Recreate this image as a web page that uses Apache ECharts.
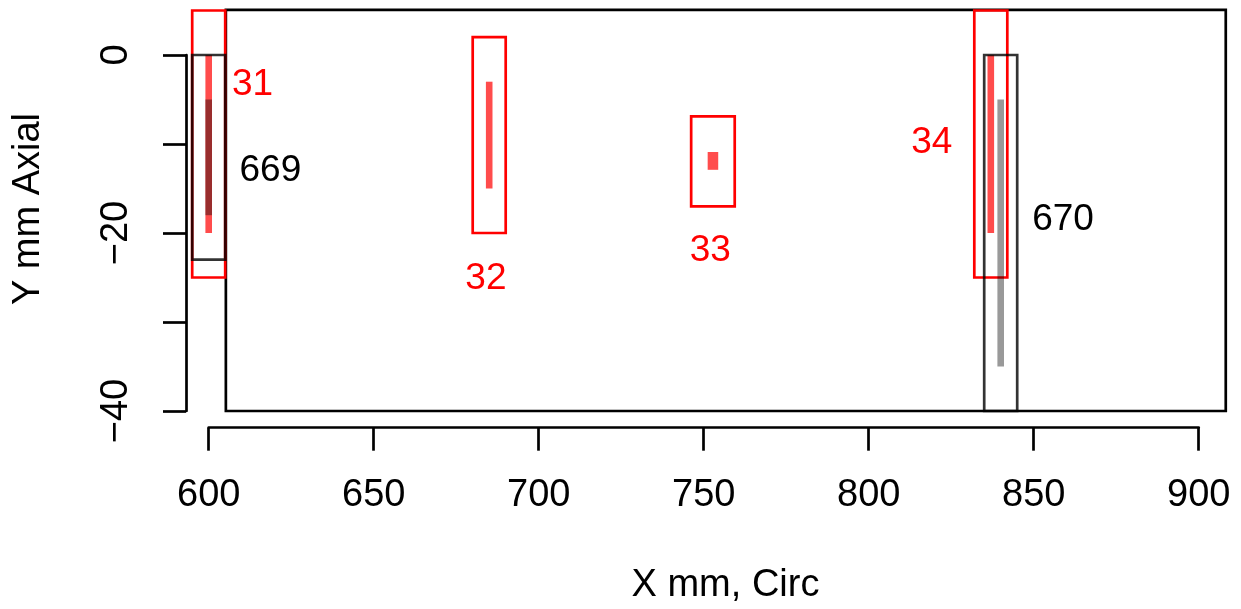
<!DOCTYPE html>
<html>
<head>
<meta charset="utf-8">
<script src="https://cdn.jsdelivr.net/npm/echarts@6/dist/echarts.min.js"></script>
<style>
  html, body { margin: 0; padding: 0; background: #ffffff; }
  #chart { width: 1241px; height: 609px; }
</style>
</head>
<body>
<div id="chart"></div>
<script>
// Axis ticks
const xTicks = [600, 650, 700, 750, 800, 850, 900];
const yTicks = [0, -10, -20, -30, -40];
const yTickLabels = [0, -20, -40];

// Plot frame (mm)
const frameX = [605.2, 908.2];
const frameY = [-40, 5.06];

// Red indications: ids, extent of each indication and its surrounding box (mm)
const redIds = ['31', '32', '33', '34'];
const redSegX1 = [599, 684, 751.2, 836];
const redSegX2 = [601, 686, 754.4, 838];
const redSegY1 = [0, -3, -10.9, 0];
const redSegY2 = [-20, -15, -12.9, -20];
const redBoxX1 = [595, 680, 746.2, 832];
const redBoxX2 = [605, 690, 759.4, 842];
const redBoxY1 = [5, 2, -6.9, 5];
const redBoxY2 = [-25, -20, -17, -25];
const redLabelX = [613.3, 684, 752, 819.1];
const redLabelY = [-3.3, -25.1, -22, -9.9];

// Black indications
const blackIds = ['669', '670'];
const blackSegX1 = [599, 839];
const blackSegX2 = [601, 841];
const blackSegY1 = [-5, -5];
const blackSegY2 = [-18, -35];
const blackBoxX1 = [595, 835];
const blackBoxX2 = [605, 845];
const blackBoxY1 = [0, 0];
const blackBoxY2 = [-23, -40];
const blackLabelX = [618.7, 858.9];
const blackLabelY = [-13, -18.5];

const FONT = '"Liberation Sans", Arial, Helvetica, sans-serif';
const LW = 2.7;

function rows(x1, x2, y1, y2) {
  return x1.map((v, i) => [v, x2[i], y1[i], y2[i]]);
}
function labelRows(xs, ys, ids) {
  return xs.map((v, i) => [v, ys[i], ids[i]]);
}

function rectItem(stroke, fill, lineWidth) {
  return function (params, api) {
    const p1 = api.coord([api.value(0), api.value(2)]);
    const p2 = api.coord([api.value(1), api.value(3)]);
    return {
      type: 'rect',
      shape: {
        x: Math.min(p1[0], p2[0]),
        y: Math.min(p1[1], p2[1]),
        width: Math.abs(p2[0] - p1[0]),
        height: Math.abs(p2[1] - p1[1])
      },
      style: { fill: fill, stroke: stroke, lineWidth: lineWidth }
    };
  };
}

function textItem(color) {
  return function (params, api) {
    const p = api.coord([api.value(0), api.value(1)]);
    return {
      type: 'text',
      x: p[0],
      y: p[1],
      style: {
        text: String(api.value(2)),
        fill: color,
        font: '37px ' + FONT,
        align: 'center',
        verticalAlign: 'middle'
      }
    };
  };
}

function custom(data, render, z) {
  return {
    type: 'custom',
    coordinateSystem: 'cartesian2d',
    clip: false,
    silent: true,
    z: z,
    data: data,
    renderItem: render
  };
}

const chart = echarts.init(document.getElementById('chart'), null, { renderer: 'canvas' });

chart.setOption({
  animation: false,
  backgroundColor: '#ffffff',
  grid: { left: 208.7, right: 42.3, top: 55, bottom: 198 },
  xAxis: {
    type: 'value',
    min: xTicks[0],
    max: xTicks[xTicks.length - 1],
    interval: 50,
    offset: 16.7,
    splitLine: { show: false },
    axisLine: { show: true, onZero: false, lineStyle: { color: '#000', width: LW } },
    axisTick: { show: true, inside: false, length: 23, lineStyle: { color: '#000', width: LW } },
    axisLabel: {
      show: true, color: '#000', fontSize: 38, fontFamily: FONT, margin: 49,
      formatter: v => xTicks.includes(v) ? String(v) : ''
    }
  },
  yAxis: {
    type: 'value',
    min: yTicks[yTicks.length - 1],
    max: yTicks[0],
    interval: 10,
    offset: 22.7,
    splitLine: { show: false },
    axisLine: { show: true, onZero: false, lineStyle: { color: '#000', width: LW } },
    axisTick: { show: true, inside: false, length: 23, lineStyle: { color: '#000', width: LW } },
    axisLabel: {
      show: true, color: '#000', fontSize: 38, fontFamily: FONT, margin: 50, rotate: 90,
      formatter: v => yTickLabels.includes(v) ? String(v).replace('-', '\u2212') : ''
    }
  },
  graphic: [
    {
      type: 'text', x: 725.5, y: 585.5,
      style: { text: 'X mm, Circ', fill: '#000', font: '38px ' + FONT, align: 'center', verticalAlign: 'middle' }
    },
    {
      type: 'text', x: 28.5, y: 209, rotation: Math.PI / 2,
      style: { text: 'Y mm Axial', fill: '#000', font: '38px ' + FONT, align: 'center', verticalAlign: 'middle' }
    }
  ],
  series: [
    custom([[frameX[0], frameX[1], frameY[0], frameY[1]]], rectItem('#000000', 'none', LW), 1),
    custom(rows(redBoxX1, redBoxX2, redBoxY1, redBoxY2), rectItem('#ff0000', 'none', LW), 2),
    custom(rows(redSegX1, redSegX2, redSegY1, redSegY2), rectItem(null, 'rgba(255,0,0,0.7)', 0), 3),
    custom(rows(blackBoxX1, blackBoxX2, blackBoxY1, blackBoxY2), rectItem('rgba(0,0,0,0.8)', 'none', LW), 4),
    custom(rows(blackSegX1, blackSegX2, blackSegY1, blackSegY2), rectItem(null, 'rgba(0,0,0,0.4)', 0), 5),
    custom(labelRows(redLabelX, redLabelY, redIds), textItem('#ff0000'), 6),
    custom(labelRows(blackLabelX, blackLabelY, blackIds), textItem('#000000'), 6)
  ]
});
</script>
</body>
</html>
